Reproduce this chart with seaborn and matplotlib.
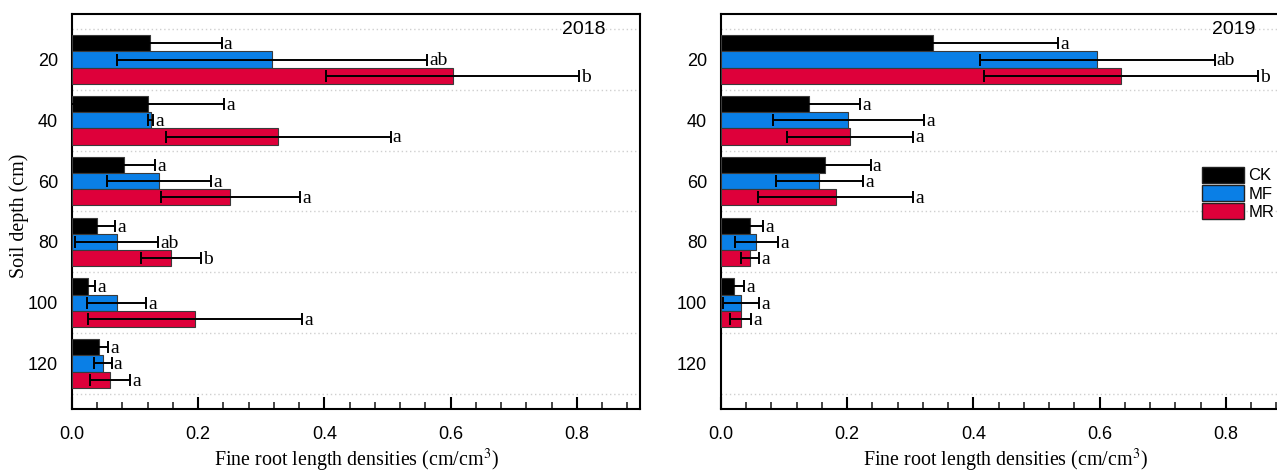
import numpy as np
import pandas as pd
import matplotlib
matplotlib.use("Agg")
import matplotlib.pyplot as plt
import seaborn as sns
from matplotlib.ticker import MultipleLocator, FixedLocator

# Soil depth layers (cm) and treatments
depths = ["20", "40", "60", "80", "100", "120"]
treatments = ["CK", "MF", "MR"]
colors = ["#000000", "#0A7FE6", "#DE003A"]

# 2018 fine root length densities (cm/cm3), error and significance letters
ck_2018 = [0.123, 0.120, 0.082, 0.040, 0.026, 0.043]
mf_2018 = [0.317, 0.125, 0.138, 0.071, 0.071, 0.049]
mr_2018 = [0.603, 0.327, 0.251, 0.157, 0.195, 0.060]
ck_2018_err = [0.114, 0.121, 0.050, 0.028, 0.011, 0.014]
mf_2018_err = [0.246, 0.004, 0.082, 0.066, 0.047, 0.014]
mr_2018_err = [0.200, 0.178, 0.110, 0.047, 0.170, 0.032]
ck_2018_sig = ["a", "a", "a", "a", "a", "a"]
mf_2018_sig = ["ab", "a", "a", "ab", "a", "a"]
mr_2018_sig = ["b", "a", "a", "b", "a", "a"]

# 2019 (no samples at 120 cm)
ck_2019 = [0.336, 0.139, 0.165, 0.046, 0.020, np.nan]
mf_2019 = [0.596, 0.202, 0.156, 0.056, 0.032, np.nan]
mr_2019 = [0.634, 0.204, 0.182, 0.046, 0.031, np.nan]
ck_2019_err = [0.198, 0.081, 0.072, 0.021, 0.017, np.nan]
mf_2019_err = [0.186, 0.120, 0.069, 0.034, 0.029, np.nan]
mr_2019_err = [0.217, 0.100, 0.123, 0.014, 0.017, np.nan]
ck_2019_sig = ["a", "a", "a", "a", "a", ""]
mf_2019_sig = ["ab", "a", "a", "a", "a", ""]
mr_2019_sig = ["b", "a", "a", "a", "a", ""]


def build_frame(vals, errs, sigs):
    rows = []
    for trt, v, e, s in zip(treatments, vals, errs, sigs):
        for d, vi, ei, si in zip(depths, v, e, s):
            rows.append({"depth": d, "treatment": trt, "value": vi,
                         "err": ei, "sig": si})
    return pd.DataFrame(rows).dropna()


df_2018 = build_frame([ck_2018, mf_2018, mr_2018],
                      [ck_2018_err, mf_2018_err, mr_2018_err],
                      [ck_2018_sig, mf_2018_sig, mr_2018_sig])
df_2019 = build_frame([ck_2019, mf_2019, mr_2019],
                      [ck_2019_err, mf_2019_err, mr_2019_err],
                      [ck_2019_sig, mf_2019_sig, mr_2019_sig])

sns.set_theme(style="white")
plt.rcParams["font.family"] = ["Liberation Sans", "DejaVu Sans"]
plt.rcParams["mathtext.fontset"] = "stix"
plt.rcParams["text.color"] = "black"

SERIF = ["Liberation Serif", "DejaVu Serif"]

fig = plt.figure(figsize=(12.77, 4.73), dpi=100)
ax1 = fig.add_axes([72 / 1277, 64 / 473, 568 / 1277, 395 / 473])
ax2 = fig.add_axes([721 / 1277, 64 / 473, 568 / 1277, 395 / 473])


def draw_panel(ax, df, year, show_legend):
    sns.barplot(data=df, y="depth", x="value", hue="treatment",
                order=depths, hue_order=treatments, palette=colors,
                orient="h", errorbar=None, width=0.8, saturation=1,
                edgecolor="#3a3a3a", linewidth=0.8, legend=show_legend,
                ax=ax, zorder=3)

    # error bars and significance letters, placed on each drawn bar
    for container, trt in zip(ax.containers, treatments):
        sub = df[df["treatment"] == trt].set_index("depth")
        for bar in container:
            yc = bar.get_y() + bar.get_height() / 2
            d = depths[int(round(yc))]
            row = sub.loc[d]
            ax.errorbar(row["value"], yc, xerr=row["err"], fmt="none",
                        ecolor="black", elinewidth=1.4, capsize=4,
                        capthick=1.4, zorder=5)
            ax.annotate(row["sig"], (row["value"] + row["err"], yc),
                        xytext=(1.5, -1), textcoords="offset points",
                        ha="left", va="center", fontsize=14,
                        family=SERIF, color="black", zorder=6)

    ax.set_xlim(0, 0.9)
    ax.set_ylim(len(depths) - 0.25, -0.75)
    ax.xaxis.set_major_locator(MultipleLocator(0.2))
    ax.xaxis.set_minor_locator(MultipleLocator(0.04))
    ax.xaxis.set_major_formatter(matplotlib.ticker.FormatStrFormatter("%.1f"))
    ax.yaxis.set_minor_locator(FixedLocator(np.arange(-0.5, len(depths), 1.0)))
    ax.grid(False)
    ax.grid(which="minor", axis="y", color="#cfcfcf", linestyle=(0, (1, 2)),
            linewidth=1.0, zorder=0)
    ax.set_axisbelow(True)

    ax.tick_params(axis="x", which="major", direction="in", length=9,
                   width=1.5, labelsize=13, pad=12, colors="black",
                   bottom=True)
    ax.tick_params(axis="x", which="minor", direction="in", length=5,
                   width=1.2, bottom=True)
    ax.tick_params(axis="y", which="both", length=0, labelsize=13, pad=10,
                   colors="black")
    for sp in ax.spines.values():
        sp.set_visible(True)
        sp.set_color("black")
        sp.set_linewidth(1.5)

    ax.set_xlabel("Fine root length densities (cm/cm$^{3}$)", fontsize=14.4,
                  family=SERIF, labelpad=3, color="black")
    ax.set_ylabel("")
    ax.text(0.94, 0.96, year, transform=ax.transAxes, ha="right", va="center",
            fontsize=14, color="black")

    if show_legend:
        handles, labels = ax.get_legend_handles_labels()
        for h in handles:
            h.set_edgecolor("#222222")
            h.set_linewidth(1.0)
        ax.legend(handles, labels, loc="upper left",
                  bbox_to_anchor=(0.835, 0.63), frameon=False, fontsize=12,
                  handlelength=2.5, handleheight=1.1, labelspacing=0.1,
                  handletextpad=0.3, borderaxespad=0, labelcolor="black")


draw_panel(ax1, df_2018, "2018", False)
draw_panel(ax2, df_2019, "2019", True)
ax1.set_ylabel("Soil depth (cm)", fontsize=14.4, family=SERIF, color="black",
               va="center")
ax1.yaxis.set_label_coords(-0.0924, 0.49)

fig.savefig("out.png", dpi=100)
